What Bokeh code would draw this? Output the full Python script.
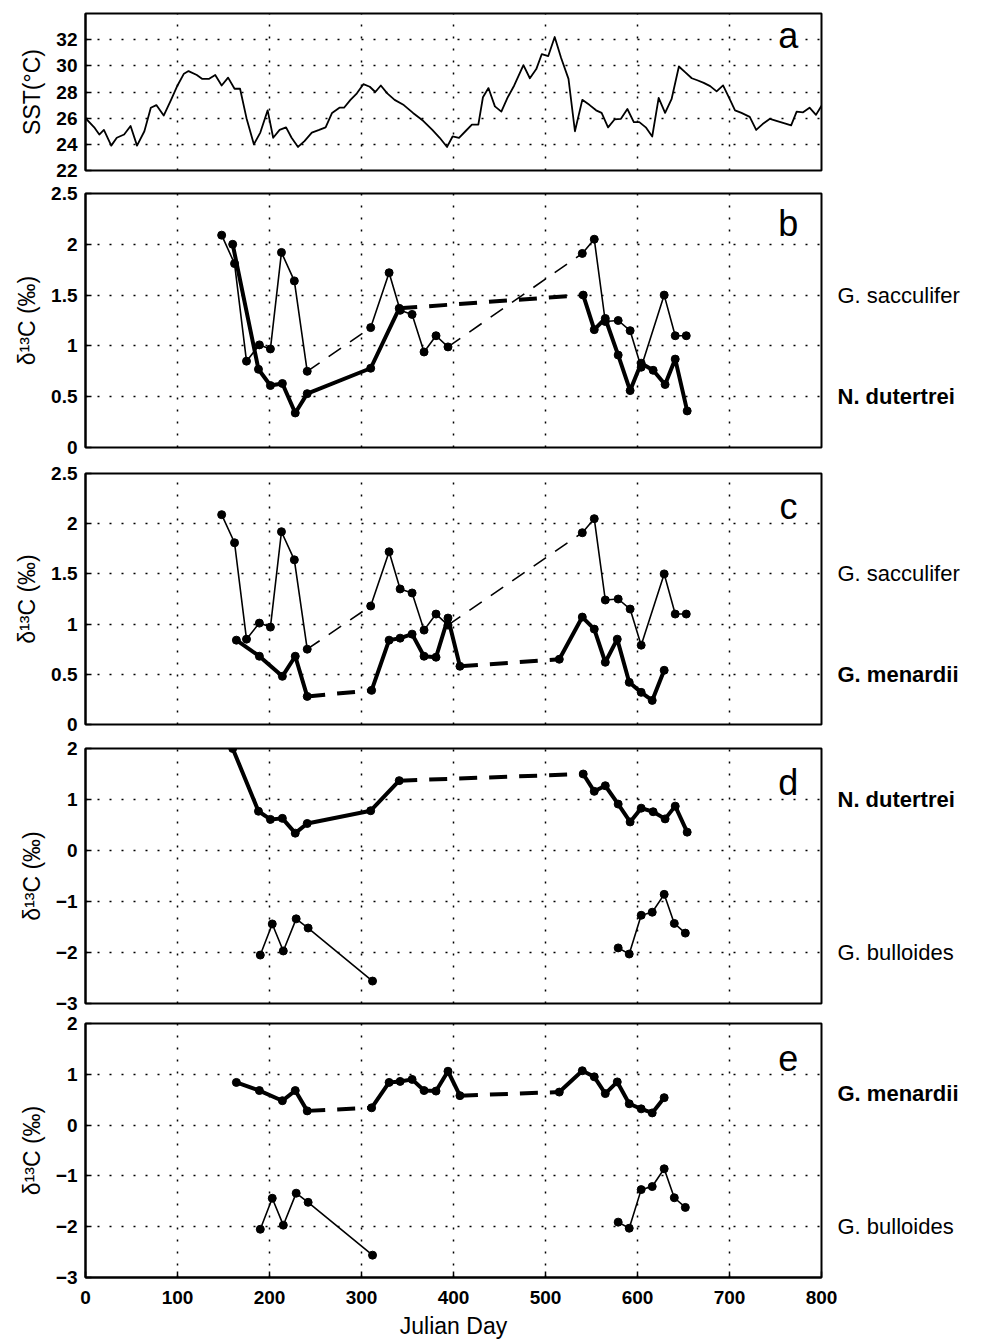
from bokeh.plotting import figure
from bokeh.layouts import column, row
from bokeh.models import Label, FixedTicker, Range1d
from bokeh.core.properties import value
from bokeh.embed import file_html
from bokeh.resources import INLINE

FONT = "Liberation Sans"

# ---------------- data ----------------
x_ticks = [0, 100, 200, 300, 400, 500, 600, 700, 800]

sst_day = [0, 10, 15, 20, 28, 34, 42, 49, 56, 64, 71, 77, 85, 93, 100, 107, 112, 121, 127, 134,
           141, 148, 155, 162, 168, 175, 183, 190, 198, 204, 211, 218, 224, 231, 238, 246, 254, 261, 268, 276,
           281, 288, 295, 302, 309, 315, 321, 328, 336, 346, 356, 367, 377, 385, 393, 399, 406, 413, 420, 427,
           432, 438, 445, 452, 459, 466, 476, 483, 490, 496, 503, 510, 517, 525, 532, 540, 548, 555, 561, 568,
           575, 582, 589, 596, 602, 609, 616, 623, 630, 637, 645, 652, 659, 665, 672, 679, 686, 693, 700, 706,
           713, 722, 729, 736, 744, 751, 760, 767, 773, 780, 787, 794, 800]
sst_val = [26.0, 25.25, 24.75, 25.1, 23.9, 24.5, 24.75, 25.4, 23.9, 25.0, 26.8, 27.0, 26.2, 27.4, 28.5, 29.4, 29.6, 29.3, 29.0, 29.0,
           29.3, 28.5, 29.1, 28.25, 28.25, 26.0, 24.0, 24.9, 26.6, 24.5, 25.1, 25.3, 24.5, 23.8, 24.25, 24.9, 25.1, 25.3, 26.4, 26.8,
           26.8, 27.4, 27.9, 28.6, 28.4, 28.0, 28.5, 27.9, 27.4, 27.0, 26.4, 25.8, 25.1, 24.5, 23.8, 24.6, 24.5, 25.0, 25.5, 25.5,
           27.6, 28.3, 26.9, 26.5, 27.6, 28.5, 30.05, 29.05, 29.75, 30.9, 30.75, 32.2, 30.6, 29.0, 25.0, 27.4, 27.0, 26.6, 26.4, 25.3,
           25.9, 25.95, 26.7, 25.7, 25.7, 25.3, 24.6, 27.55, 26.4, 27.45, 29.95, 29.5, 29.05, 28.9, 28.7, 28.45, 28.05, 28.5, 27.5, 26.6,
           26.4, 26.1, 25.1, 25.55, 25.95, 25.8, 25.6, 25.45, 26.5, 26.45, 26.8, 26.25, 26.95]

sacc_day = [148, 162, 175, 189, 201, 213, 227, 241, 310, 330, 342, 355, 368, 381, 394,
            540, 553, 565, 579, 592, 604, 629, 641, 653]
sacc_val = [2.09, 1.81, 0.85, 1.01, 0.97, 1.92, 1.64, 0.75, 1.18, 1.72, 1.35, 1.31, 0.94, 1.10, 0.99,
            1.91, 2.05, 1.24, 1.25, 1.15, 0.79, 1.50, 1.10, 1.10]
sacc_seg = [0] * 8 + [1] * 7 + [2] * 9

dut_day = [160, 188, 201, 214, 228, 241, 310, 341, 541, 553, 565, 579, 592, 604, 617, 630, 641, 654]
dut_val = [2.00, 0.77, 0.61, 0.63, 0.34, 0.53, 0.78, 1.37, 1.50, 1.16, 1.27, 0.91, 0.56, 0.83, 0.76, 0.62, 0.87, 0.36]
dut_seg = [0] * 8 + [1] * 10

men_day = [164, 189, 214, 228, 241, 311, 330, 342, 355, 368, 381, 394, 407,
           515, 540, 553, 565, 578, 591, 604, 616, 629]
men_val = [0.84, 0.68, 0.48, 0.68, 0.28, 0.34, 0.84, 0.86, 0.90, 0.68, 0.67, 1.06, 0.58,
           0.65, 1.07, 0.95, 0.62, 0.85, 0.42, 0.32, 0.24, 0.54]
men_seg = [0] * 5 + [1] * 8 + [2] * 9

bul_day = [190, 203, 215, 229, 242, 312, 579, 591, 604, 616, 629, 640, 652]
bul_val = [-2.05, -1.44, -1.97, -1.34, -1.52, -2.56, -1.91, -2.03, -1.27, -1.21, -0.86, -1.43, -1.62]
bul_seg = [0] * 6 + [1] * 7

sst_ticks = [22, 24, 26, 28, 30, 32]
d13_ticks_bc = [0, 0.5, 1, 1.5, 2, 2.5]
d13_labels_bc = ["0", "0.5", "1", "1.5", "2", "2.5"]
d13_ticks_de = [-3, -2, -1, 0, 1, 2]
d13_labels_de = ["\u22123", "\u22122", "\u22121", "0", "1", "2"]

# species names written to the right of panels b-e: (name, y position, bold)
side_b = [("G. sacculifer", 1.5, False), ("N. dutertrei", 0.5, True)]
side_c = [("G. sacculifer", 1.5, False), ("G. menardii", 0.5, True)]
side_d = [("N. dutertrei", 1.0, True), ("G. bulloides", -2.0, False)]
side_e = [("G. menardii", 0.62, True), ("G. bulloides", -2.0, False)]

D13_LABEL = "\u03b4\u00b9\u00b3C (\u2030)"
LB = 85          # left border of each panel
RB = 16          # right border of each panel (room for the "800" tick label)
SIDE_W = 136     # width of the strip holding the species names


def make_panel(frame_h, yr, yticks, ylabels, top, bottom, ylabel, show_x=False):
    p = figure(frame_width=736, frame_height=frame_h,
               x_range=Range1d(0, 800), y_range=Range1d(*yr),
               output_backend="svg", toolbar_location=None,
               min_border_left=LB, min_border_right=RB,
               min_border_top=top, min_border_bottom=bottom)
    p.outline_line_color = "black"
    p.outline_line_width = 2
    p.outline_line_alpha = 1
    p.background_fill_color = "white"
    p.border_fill_color = "white"

    xt = FixedTicker(ticks=x_ticks)
    yt = FixedTicker(ticks=yticks)
    p.xaxis.ticker = xt
    p.yaxis.ticker = yt
    p.xgrid.ticker = xt
    p.ygrid.ticker = yt
    for g in (p.xgrid, p.ygrid):
        g.grid_line_color = "black"
        g.grid_line_dash = "2 10"
        g.grid_line_width = 1.5
        g.grid_line_alpha = 1

    if ylabels is not None:
        p.yaxis.major_label_overrides = {t: l for t, l in zip(yticks, ylabels)}

    for ax in (p.xaxis, p.yaxis):
        ax.major_tick_in = 6
        ax.major_tick_out = 0
        ax.minor_tick_line_color = None
        ax.axis_line_width = 2
        ax.major_tick_line_width = 1.5
        ax.major_label_text_font = FONT
        ax.major_label_text_font_size = "19px"
        ax.major_label_text_font_style = "bold"
        ax.major_label_text_color = "black"
        ax.axis_label_text_font = FONT
        ax.axis_label_text_font_size = "23px"
        ax.axis_label_text_font_style = "normal"
        ax.axis_label_text_color = "black"
    p.yaxis.major_label_standoff = 8
    p.yaxis.axis_label = ylabel
    p.yaxis.axis_label_standoff = 8

    if show_x:
        p.xaxis.axis_label = "Julian Day"
        p.xaxis.major_label_standoff = 13
        p.xaxis.axis_label_standoff = 6
    else:
        p.xaxis.visible = False
    return p


def make_side(frame_h, yr, top, bottom, entries):
    s = figure(frame_width=SIDE_W, frame_height=frame_h,
               x_range=Range1d(0, SIDE_W), y_range=Range1d(*yr),
               output_backend="svg", toolbar_location=None,
               min_border_left=0, min_border_right=0,
               min_border_top=top, min_border_bottom=bottom)
    s.axis.visible = False
    s.grid.visible = False
    s.outline_line_color = None
    s.background_fill_color = "white"
    s.border_fill_color = "white"
    for name, y, bold in entries:
        s.text(x=[0], y=[y], text=[name], text_align="left", text_baseline="middle",
               text_font=value(FONT), text_font_size="22px",
               text_font_style="bold" if bold else "normal", text_color="black")
    return s


def draw_series(p, day, val, seg, thick, gaps_dashed=True):
    lw = 4 if thick else 1.6
    ids = sorted(set(seg))
    for s in ids:
        xs = [d for d, g in zip(day, seg) if g == s]
        ys = [v for v, g in zip(val, seg) if g == s]
        p.line(xs, ys, line_width=lw, line_color="black", line_join="round")
    if gaps_dashed:
        for a, b in zip(ids[:-1], ids[1:]):
            ia = max(i for i, g in enumerate(seg) if g == a)
            ib = min(i for i, g in enumerate(seg) if g == b)
            p.line([day[ia], day[ib]], [val[ia], val[ib]], line_width=lw, line_color="black",
                   line_dash="18 12" if thick else "15 11")
    p.scatter(day, val, marker="circle", size=8, fill_color="black", line_color="black")


def letter(p, txt, y):
    p.add_layout(Label(x=764, y=y, text=txt, text_align="center", text_baseline="middle",
                       text_font=FONT, text_font_size="36px", text_color="black"))


# panel a
pa = make_panel(157, (22, 34), sst_ticks, None, 13, 11, "SST(\u00b0C)")
pa.line(sst_day, sst_val, line_width=1.8, line_color="black", line_join="round")
letter(pa, "a", 32.3)

# panel b
pb = make_panel(254, (0, 2.5), d13_ticks_bc, d13_labels_bc, 12, 13, D13_LABEL)
draw_series(pb, sacc_day, sacc_val, sacc_seg, thick=False)
draw_series(pb, dut_day, dut_val, dut_seg, thick=True)
letter(pb, "b", 2.2)
sb = make_side(254, (0, 2.5), 12, 13, side_b)

# panel c
pc = make_panel(251, (0, 2.5), d13_ticks_bc, d13_labels_bc, 13, 12, D13_LABEL)
draw_series(pc, sacc_day, sacc_val, sacc_seg, thick=False)
draw_series(pc, men_day, men_val, men_seg, thick=True)
letter(pc, "c", 2.17)
sc = make_side(251, (0, 2.5), 13, 12, side_c)

# panel d
pd_ = make_panel(255, (-3, 2), d13_ticks_de, d13_labels_de, 12, 10, D13_LABEL)
draw_series(pd_, dut_day, dut_val, dut_seg, thick=True)
draw_series(pd_, bul_day, bul_val, bul_seg, thick=False, gaps_dashed=False)
letter(pd_, "d", 1.33)
sd = make_side(255, (-3, 2), 12, 10, side_d)

# panel e
pe = make_panel(254, (-3, 2), d13_ticks_de, d13_labels_de, 10, 55, D13_LABEL, show_x=True)
draw_series(pe, men_day, men_val, men_seg, thick=True)
draw_series(pe, bul_day, bul_val, bul_seg, thick=False, gaps_dashed=False)
letter(pe, "e", 1.33)
se = make_side(254, (-3, 2), 10, 55, side_e)

layout = column(pa, row(pb, sb, spacing=0), row(pc, sc, spacing=0),
                row(pd_, sd, spacing=0), row(pe, se, spacing=0), spacing=0)
open("out.html", "w").write(file_html(layout, INLINE))
